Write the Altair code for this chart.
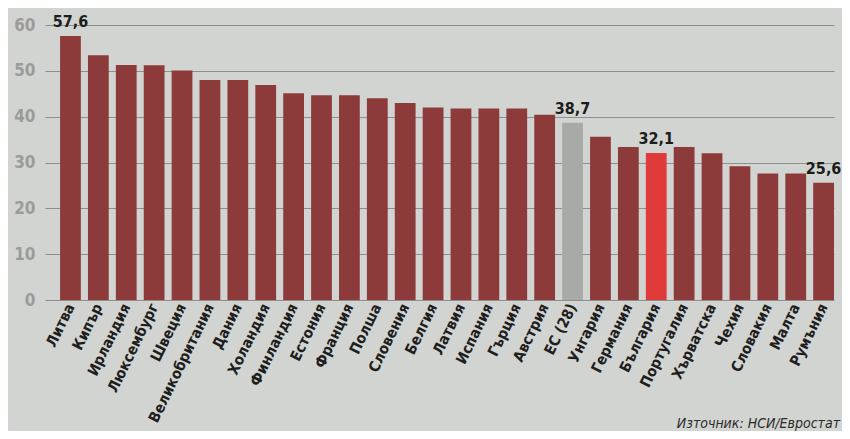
import altair as alt
import pandas as pd

countries = ["Литва", "Кипър", "Ирландия", "Люксембург", "Швеция", "Великобритания",
             "Дания", "Холандия", "Финландия", "Естония", "Франция", "Полша", "Словения",
             "Белгия", "Латвия", "Испания", "Гърция", "Австрия", "ЕС (28)", "Унгария",
             "Германия", "България", "Португалия", "Хърватска", "Чехия", "Словакия",
             "Малта", "Румъния"]
values = [57.6, 53.4, 51.3, 51.2, 50.1, 48.0, 48.0, 46.9, 45.1, 44.7, 44.7, 44.0, 43.0,
          42.0, 41.8, 41.8, 41.8, 40.4, 38.7, 35.6, 33.4, 32.1, 33.4, 32.0, 29.2, 27.6,
          27.6, 25.6]
groups = ["country"] * 18 + ["eu"] + ["country"] * 2 + ["bg"] + ["country"] * 6
labels = ["57,6"] + [""] * 17 + ["38,7"] + [""] * 2 + ["32,1"] + [""] * 5 + ["25,6"]
y_ticks = [0, 10, 20, 30, 40, 50, 60]
source = ["Източник: НСИ/Евростат"]

FONT = "DejaVu Sans Condensed"
W, H = 789, 275

df = pd.DataFrame({"country": countries, "value": values, "group": groups, "label": labels})

x = alt.X("country:N", sort=countries, title=None,
          scale=alt.Scale(paddingInner=0.255, paddingOuter=0.27, align=1),
          axis=alt.Axis(labelAngle=-64, labelFont=FONT, labelFontWeight="bold",
                        labelFontSize=15, labelColor="#1e1e1e", ticks=False, domain=False,
                        labelPadding=4, labelAlign="right", labelBaseline="middle"))
y = alt.Y("value:Q", title=None,
          scale=alt.Scale(domain=[0, 60], nice=False),
          axis=alt.Axis(values=y_ticks, grid=True, gridColor="#8e8e8e", gridWidth=1,
                        ticks=False, domain=False, labelFont=FONT, labelFontSize=17,
                        labelFontWeight="bold", labelColor="#9a9b9a", labelPadding=10))

bars = alt.Chart(df).mark_bar().encode(
    x=x, y=y,
    color=alt.Color("group:N", legend=None,
                    scale=alt.Scale(domain=["country", "eu", "bg"],
                                    range=["#8c3b3a", "#a8aaa7", "#e03a3a"])),
)
text = alt.Chart(df).mark_text(dy=-6, baseline="bottom", font=FONT,
                               fontWeight="bold", fontSize=16, color="#1c1c1c").encode(
    x=alt.X("country:N", sort=countries), y="value:Q", text="label:N")

src = alt.Chart(pd.DataFrame({"t": source})).mark_text(
    align="right", baseline="alphabetic", font=FONT, fontStyle="italic",
    fontSize=14, color="#2a2a2a").encode(
    x=alt.value(W + 6), y=alt.value(H + 128), text="t:N")

chart = alt.layer(bars, text, src).properties(
    width=W, height=H,
    autosize=alt.AutoSizeParams(type="none"),
    padding={"left": 37, "top": 17, "right": 8, "bottom": 131},
    background="#d2d4d1",
).configure_view(stroke=None)

chart.save("out.html", embed_options={"renderer": "svg", "actions": False})
